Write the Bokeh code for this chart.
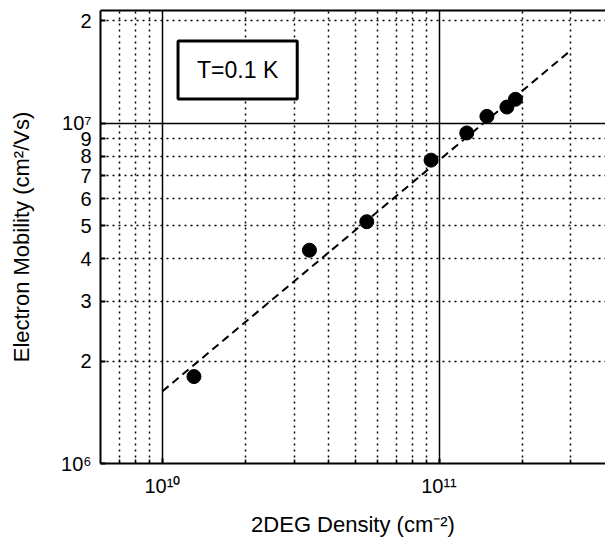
from bokeh.plotting import figure
from bokeh.models import FixedTicker, Grid, Label, ColumnDataSource, LogAxis
from bokeh.embed import file_html
from bokeh.resources import INLINE

# --- data ---
density = [1.30e10, 3.40e10, 5.48e10, 9.36e10, 1.26e11, 1.49e11, 1.76e11, 1.89e11]
mobility = [1.80e6, 4.23e6, 5.13e6, 7.78e6, 9.35e6, 1.046e7, 1.114e7, 1.174e7]
fit_density = [1.0e10, 2.93e11]
fit_mobility = [1.63e6, 1.61e7]

x_major = [1e10, 1e11]
x_major_labels = ["10¹⁰", "10¹¹"]
x_minor = [7e9, 8e9, 9e9, 2e10, 3e10, 4e10, 5e10, 6e10, 7e10, 8e10, 9e10, 2e11, 3e11]

y_ticks = [1e6, 2e6, 3e6, 4e6, 5e6, 6e6, 7e6, 8e6, 9e6, 1e7, 2e7]
y_tick_labels = ["10⁶", "2", "3", "4", "5", "6", "7", "8", "9", "10⁷", "2"]
y_major = [1e7]
y_minor = [2e6, 3e6, 4e6, 5e6, 6e6, 7e6, 8e6, 9e6, 2e7]

x_lo, x_hi = 5.97e9, 4.0e11
y_lo, y_hi = 1.0e6, 2.14e7

FONT = "Liberation Sans"

p = figure(width=605, height=540, x_axis_type="log", y_axis_type="log",
           x_range=(x_lo, x_hi), y_range=(y_lo, y_hi),
           output_backend="svg", toolbar_location=None,
           min_border_left=100, min_border_right=0, min_border_top=10, min_border_bottom=77)
p.background_fill_color = "white"
p.border_fill_color = "white"
p.outline_line_color = None

# top frame line only (the right side of the frame is cut off in the reference)
top = LogAxis(ticker=FixedTicker(ticks=[], minor_ticks=[]),
              axis_line_width=2, axis_line_color="black",
              major_tick_in=0, major_tick_out=0, minor_tick_in=0, minor_tick_out=0,
              major_label_text_font_size="0px", major_label_standoff=0)
p.add_layout(top, "above")

# remove default grids
p.xgrid.visible = False
p.ygrid.visible = False

# solid major grid
p.add_layout(Grid(dimension=0, ticker=FixedTicker(ticks=x_major),
                  grid_line_color="black", grid_line_width=1.5))
p.add_layout(Grid(dimension=1, ticker=FixedTicker(ticks=y_major),
                  grid_line_color="black", grid_line_width=1.5))
# dotted minor grid
p.add_layout(Grid(dimension=0, ticker=FixedTicker(ticks=x_minor),
                  grid_line_color="black", grid_line_width=1.5, grid_line_dash="2 4"))
p.add_layout(Grid(dimension=1, ticker=FixedTicker(ticks=y_minor),
                  grid_line_color="black", grid_line_width=1.5, grid_line_dash="2 4"))

# axes
xa = p.below[0]
xa.ticker = FixedTicker(ticks=x_major, minor_ticks=x_minor)
xa.major_label_overrides = {t: l for t, l in zip(x_major, x_major_labels)}
ya = p.left[0]
ya.ticker = FixedTicker(ticks=y_ticks, minor_ticks=[])
ya.major_label_overrides = {t: l for t, l in zip(y_ticks, y_tick_labels)}

for ax in (xa, ya):
    ax.axis_line_width = 2
    ax.axis_line_color = "black"
    ax.major_tick_in = 5
    ax.major_tick_out = 0
    ax.minor_tick_in = 4
    ax.minor_tick_out = 0
    ax.major_tick_line_width = 2
    ax.minor_tick_line_width = 1.5
    ax.major_label_text_font = FONT
    ax.major_label_text_font_size = "20px"
    ax.major_label_text_color = "black"
    ax.axis_label_text_font = FONT
    ax.axis_label_text_font_size = "22px"
    ax.axis_label_text_font_style = "normal"
    ax.axis_label_text_color = "black"

xa.axis_label = "2DEG Density (cm⁻²)"
xa.major_label_standoff = 11
xa.axis_label_standoff = 12
ya.axis_label = "Electron Mobility (cm²/Vs)"
ya.major_label_standoff = 9
ya.axis_label_standoff = 24

# fit line
p.line(fit_density, fit_mobility, line_color="black", line_width=2, line_dash="8 5")

# data points
src = ColumnDataSource(dict(x=density, y=mobility))
p.scatter("x", "y", source=src, size=14, fill_color="black", line_color="black")

# temperature label
p.add_layout(Label(x=1.87e10, y=1.43e7, text="T=0.1 K", text_font=FONT,
                   text_font_size="23px", text_color="black",
                   text_align="center", text_baseline="middle",
                   border_line_color="black", border_line_width=3,
                   background_fill_color="white",
                   padding=dict(left=19, right=19, top=16, bottom=16)))

open("out.html", "w").write(file_html(p, INLINE))
